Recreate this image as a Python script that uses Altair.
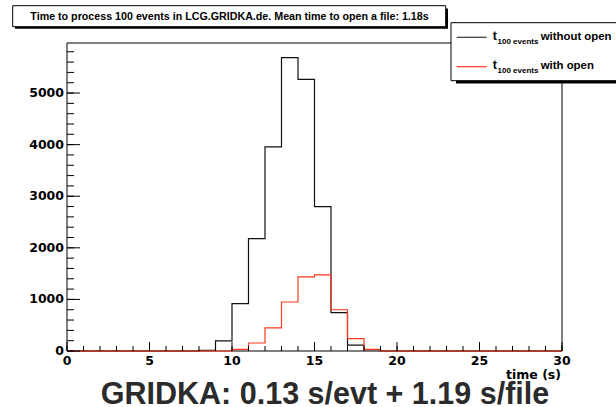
import altair as alt
import pandas as pd

# ---------------- data ----------------
bin_edges = list(range(0, 31))
without_open = [0, 0, 0, 0, 0, 0, 0, 0, 15, 195, 920, 2180, 3955, 5685, 5265,
                2800, 745, 115, 25, 0, 0, 0, 0, 0, 0, 0, 0, 0, 0, 0]
with_open = [0, 0, 0, 0, 0, 0, 0, 0, 0, 0, 30, 155, 450, 950, 1435,
             1475, 800, 240, 30, 0, 0, 0, 0, 0, 0, 0, 0, 0, 0, 0]

x_major = [0, 5, 10, 15, 20, 25, 30]
x_labels = ["0", "5", "10", "15", "20", "25", "30"]
x_minor = list(range(0, 31))
y_major = [0, 1000, 2000, 3000, 4000, 5000]
y_labels = ["0", "1000", "2000", "3000", "4000", "5000"]
y_minor = list(range(0, 6000, 200))

title_text = "Time to process 100 events in LCG.GRIDKA.de. Mean time to open a file: 1.18s"
legend_main = ["without open", "with open"]
legend_sub = "100 events"
xaxis_title = "time (s)"
footer_text = "GRIDKA: 0.13 s/evt + 1.19 s/file"

# ---------------- layout ----------------
W, H = 495, 308
PL, PT = 67, 43
YMAX = 5970
BLACK = "#111111"
RED = "#ff3a1e"


def px(X):
    return X - PL


def py(Y):
    return Y - PT


xs = alt.Scale(domain=[0, 30], nice=False, zero=False)
ys = alt.Scale(domain=[0, YMAX], nice=False, zero=False)
one = pd.DataFrame({"d": [0]})


def step_df(counts):
    return pd.DataFrame({"t": bin_edges, "n": counts + [counts[-1]]})


def rule(x1, y1, x2, y2, color="black", w=1.0):
    return alt.Chart(one).mark_rule(color=color, strokeWidth=w).encode(
        x=alt.value(x1), x2=alt.value(x2), y=alt.value(y1), y2=alt.value(y2))


def rect(x1, y1, x2, y2, fill, stroke=None, w=1.0):
    kw = dict(fill=fill)
    if stroke:
        kw.update(stroke=stroke, strokeWidth=w)
    else:
        kw.update(strokeWidth=0)
    return alt.Chart(one).mark_rect(**kw).encode(
        x=alt.value(x1), x2=alt.value(x2), y=alt.value(y1), y2=alt.value(y2))


def text(s, X, Y, size, font="Liberation Sans", align="left", color="black", weight="bold"):
    return alt.Chart(one).mark_text(text=s, font=font, fontSize=size, fontWeight=weight,
                                    align=align, baseline="alphabetic", color=color).encode(
        x=alt.value(px(X)), y=alt.value(py(Y)))


# frame
frame = (rule(0, 0, 0, H) + rule(0, 0, W, 0) + rule(W, 0, W, H) + rule(0, H, W, H))

hist_black = alt.Chart(step_df(without_open)).mark_line(
    interpolate="step-after", color=BLACK, strokeWidth=1.2).encode(
    x=alt.X("t:Q", scale=xs, axis=None),
    y=alt.Y("n:Q", scale=ys, axis=None),
)
hist_red = alt.Chart(step_df(with_open)).mark_line(
    interpolate="step-after", color=RED, strokeWidth=1.2).encode(
    x=alt.X("t:Q", scale=xs, axis=None),
    y=alt.Y("n:Q", scale=ys, axis=None),
)

# inward ticks
xt_minor = alt.Chart(pd.DataFrame({"t": x_minor})).mark_rule(color="black").encode(
    x=alt.X("t:Q", scale=xs, axis=None), y=alt.value(H), y2=alt.value(H - 5))
xt_major = alt.Chart(pd.DataFrame({"t": x_major})).mark_rule(color="black").encode(
    x=alt.X("t:Q", scale=xs, axis=None), y=alt.value(H), y2=alt.value(H - 9))
yt_minor = alt.Chart(pd.DataFrame({"n": y_minor})).mark_rule(color="black").encode(
    y=alt.Y("n:Q", scale=ys, axis=None), x=alt.value(0), x2=alt.value(7))
yt_major = alt.Chart(pd.DataFrame({"n": y_major})).mark_rule(color="black").encode(
    y=alt.Y("n:Q", scale=ys, axis=None), x=alt.value(0), x2=alt.value(13))

# tick labels
xlab = alt.Chart(pd.DataFrame({"t": x_major, "lab": x_labels})).mark_text(
    font="DejaVu Sans", fontWeight="bold", fontSize=12.5, align="center",
    baseline="alphabetic", color="black").encode(
    x=alt.X("t:Q", scale=xs, axis=None), y=alt.value(H + 14), text="lab:N")
ylab = alt.Chart(pd.DataFrame({"n": y_major, "lab": y_labels})).mark_text(
    font="DejaVu Sans", fontWeight="bold", fontSize=12.5, align="right",
    baseline="middle", color="black", dx=-3).encode(
    y=alt.Y("n:Q", scale=ys, axis=None), x=alt.value(0), text="lab:N")

# title box
title_box = (
    rect(px(15), py(8.5), px(448), py(28.7), fill="black")
    + rect(px(12.7), py(5.7), px(445.7), py(26.7), fill="white", stroke="black")
    + text(title_text, 229.5, 20.2, 10.7, align="center")
)

# legend box
legend_box = (
    rect(px(456), py(25), px(630), py(83.5), fill="black")
    + rect(px(451), py(22.7), px(630), py(80.7), fill="white", stroke="black")
    + rule(px(456.7), py(37.3), px(486.7), py(37.3), color="#333333", w=1.2)
    + rule(px(456.7), py(66.7), px(486.7), py(66.7), color=RED, w=1.2)
    + text("t", 492.7, 39.5, 12.5)
    + text(legend_sub, 497.5, 43.5, 8)
    + text(legend_main[0], 540.7, 39.5, 11.4)
    + text("t", 492.7, 68.8, 12.5)
    + text(legend_sub, 497.5, 72.8, 8)
    + text(legend_main[1], 540.7, 68.8, 11.4)
)

xlabel = text(xaxis_title, 561, 378.5, 12.5, font="DejaVu Sans", align="right")
footer = text(footer_text, 325, 404, 30.5, align="center", color="#2b2b2b")

chart = alt.layer(
    frame, hist_black, hist_red, xt_minor, xt_major, yt_minor, yt_major,
    xlab, ylab, title_box, legend_box, xlabel, footer
).resolve_scale(x="shared", y="shared").properties(
    width=W, height=H,
    padding={"left": PL, "top": PT, "right": 616 - PL - W, "bottom": 407 - PT - H},
    autosize=alt.AutoSizeParams(type="none"),
    background="white",
).configure_view(stroke=None)

chart.save("out.html", embed_options={"renderer": "svg", "actions": False})
